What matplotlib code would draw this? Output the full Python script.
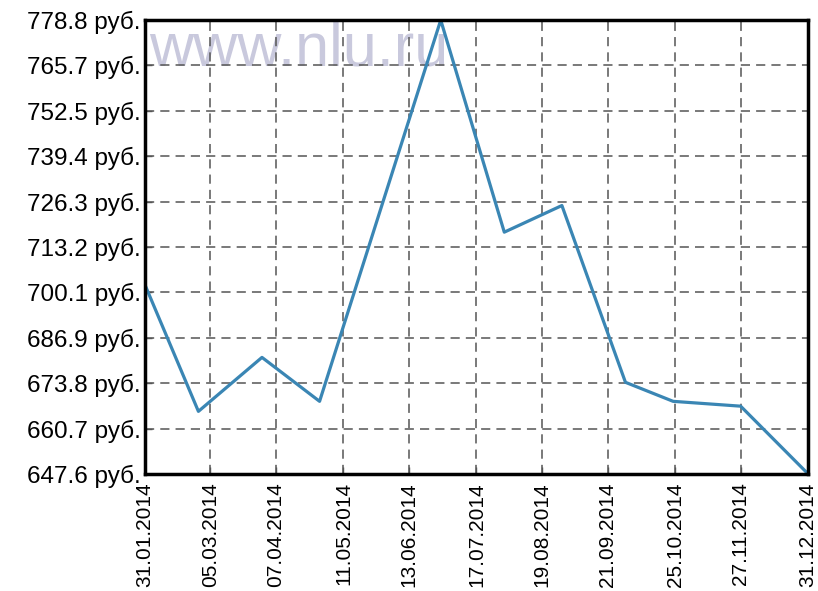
import matplotlib
matplotlib.use("Agg")
import matplotlib.pyplot as plt
import matplotlib.dates as mdates
from datetime import date

plt.rcParams['font.family'] = ['Liberation Sans', 'DejaVu Sans']

# data
dates = [date(2014, 1, 31), date(2014, 2, 27), date(2014, 3, 31), date(2014, 4, 29),
         date(2014, 6, 29), date(2014, 7, 31), date(2014, 8, 29), date(2014, 9, 30),
         date(2014, 10, 24), date(2014, 11, 27), date(2014, 12, 31)]
prices = [702.4, 665.7, 681.3, 668.6, 778.8, 717.5, 725.2, 674.1, 668.6, 667.2, 647.6]

tick_dates = [date(2014, 1, 31), date(2014, 3, 5), date(2014, 4, 7), date(2014, 5, 11),
              date(2014, 6, 13), date(2014, 7, 17), date(2014, 8, 19), date(2014, 9, 21),
              date(2014, 10, 25), date(2014, 11, 27), date(2014, 12, 31)]
y_ticks = [647.6, 660.7, 673.8, 686.9, 700.1, 713.2, 726.3, 739.4, 752.5, 765.7, 778.8]

fig = plt.figure(figsize=(8.18, 5.91), dpi=100)
ax = fig.add_axes([0.177, 0.198, 0.811, 0.768])

ax.text(0.006, 0.90, 'www.nlu.ru', transform=ax.transAxes, fontsize=44,
        color='#c9c9dd', va='baseline', ha='left', zorder=0)

x = mdates.date2num(dates)
ax.plot(x, prices, color='#3a86b4', lw=2.3, zorder=3)

ax.set_xlim(mdates.date2num(date(2014, 1, 31)), mdates.date2num(date(2014, 12, 31)))
ax.set_ylim(647.6, 778.8)

ax.set_xticks(mdates.date2num(tick_dates))
ax.set_xticklabels([d.strftime('%d.%m.%Y') for d in tick_dates], rotation=90, fontsize=15)
ax.set_yticks(y_ticks)
ax.set_yticklabels(['%.1f руб.' % v for v in y_ticks], fontsize=17.5)

ax.tick_params(direction='in', length=5, width=1, color='#555555')
ax.tick_params(axis='x', pad=6)
ax.tick_params(axis='y', pad=3)
ax.grid(True, color='#555555', linestyle=(0, (6, 4)), lw=1.1, zorder=1)
for s in ax.spines.values():
    s.set_linewidth(2.5)
    s.set_zorder(4)

plt.savefig('out.png', dpi=100)
